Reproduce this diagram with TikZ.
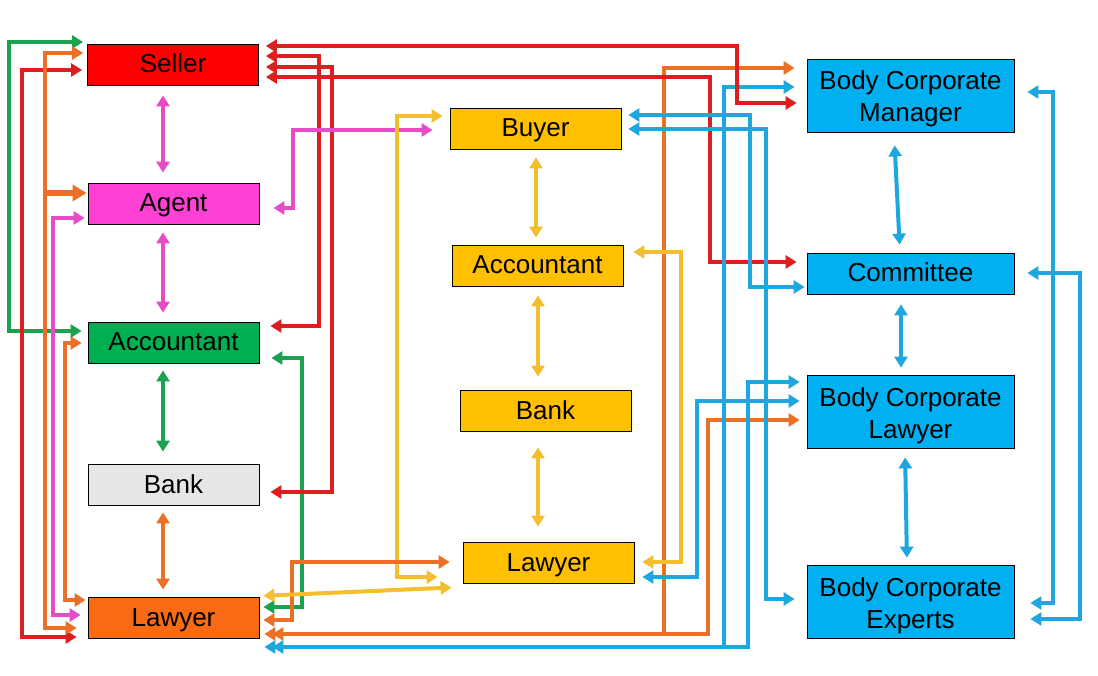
\documentclass[tikz,border=0pt]{standalone}
\usepackage{fontspec}
\setmainfont{Liberation Sans}
\usetikzlibrary{arrows.meta}
\definecolor{cSeller}{HTML}{FF0000}
\definecolor{cAgent}{HTML}{FF40D4}
\definecolor{cAcc}{HTML}{00B050}
\definecolor{cBank}{HTML}{E7E6E6}
\definecolor{cLaw}{HTML}{FA6A14}
\definecolor{cYel}{HTML}{FFC000}
\definecolor{cBlu}{HTML}{00B0F0}
\definecolor{lRed}{HTML}{DC1E1E}
\definecolor{lMag}{HTML}{E64CC8}
\definecolor{lGrn}{HTML}{1AA24E}
\definecolor{lOrg}{HTML}{EC6F26}
\definecolor{lYel}{HTML}{F4BF2E}
\definecolor{lBlu}{HTML}{1EA6DE}
\begin{document}
\begin{tikzpicture}[x=1pt,y=-1pt,
  box/.style={draw=black,line width=0.8pt,minimum width=171pt,minimum height=41pt,inner sep=0pt,align=center,font=\fontsize{26}{32}\selectfont,text height=19pt,text depth=2pt},
  wbox/.style={box,fill=cBlu,minimum width=207pt,minimum height=73pt,text height=59pt,text depth=6pt},
  con/.style 2 args={line width=4pt,{Triangle[length=11pt,width=13pt]}-{Triangle[length=11pt,width=13pt]},shorten <=#1,shorten >=#2},
  rd/.style={draw=lRed},mg/.style={draw=lMag},gr/.style={draw=lGrn},
  og/.style={draw=lOrg},yl/.style={draw=lYel},bl/.style={draw=lBlu}]
\useasboundingbox (0,0) rectangle (1098,676);
\fill[white] (0,0) rectangle (1098,676);
% left column
\node[box,fill=cSeller] (seller) at (173,64.5) {Seller};
\node[box,fill=cAgent] (agent) at (173.5,203.5) {Agent};
\node[box,fill=cAcc] (accL) at (173.5,342.5) {Accountant};
\node[box,fill=cBank] (bankL) at (173.5,484.5) {Bank};
\node[box,fill=cLaw] (lawL) at (173.5,617.5) {Lawyer};
% middle column
\node[box,fill=cYel] (buyer) at (535.5,128.5) {Buyer};
\node[box,fill=cYel] (accM) at (537.5,265.5) {Accountant};
\node[box,fill=cYel] (bankM) at (545.5,410.5) {Bank};
\node[box,fill=cYel] (lawM) at (548.5,562.5) {Lawyer};
% right column
\node[wbox] (bcm) at (910.5,95.5) {Body Corporate\\Manager};
\node[wbox,minimum height=41pt,text height=19pt,text depth=2pt] (com) at (910.5,273.5) {Committee};
\node[wbox] (bcl) at (910.5,411.5) {Body Corporate\\Lawyer};
\node[wbox] (bce) at (910.5,601.5) {Body Corporate\\Experts};

% left column verticals
\draw[mg,con={10pt}{10pt}] (163,0 |- seller.south) -- (163,0 |- agent.north);
\draw[mg,con={8pt}{9pt}] (163,0 |- agent.south) -- (163,0 |- accL.north);
\draw[gr,con={7pt}{12pt}] (163,0 |- accL.south) -- (163,0 |- bankL.north);
\draw[og,con={7pt}{7pt}] (163,0 |- bankL.south) -- (163,0 |- lawL.north);

% outer left connectors
\draw[gr,con={4pt}{6pt}] (seller.west |- 0,42) -| (9,331) -- (accL.west |- 0,331);
\draw[rd,con={5pt}{11pt}] (seller.west |- 0,70) -| (22,637) -- (lawL.west |- 0,637);
\draw[og,con={4pt}{11pt}] (seller.west |- 0,53) -| (45,628) -- (lawL.west |- 0,628);
\draw[og,line width=5.5pt,-{Triangle[length=14pt,width=16pt]},shorten >=1pt] (45,193) -- (agent.west |- 0,193);
\draw[mg,con={3pt}{7pt}] (agent.west |- 0,218) -| (53,615) -- (lawL.west |- 0,615);
\draw[og,con={6pt}{2pt}] (accL.west |- 0,343) -| (65,600) -- (lawL.west |- 0,600);

% middle column verticals
\draw[yl,con={8pt}{7pt}] (536,0 |- buyer.south) -- (536,0 |- accM.north);
\draw[yl,con={9pt}{13pt}] (538,0 |- accM.south) -- (538,0 |- bankM.north);
\draw[yl,con={16pt}{15pt}] (538,0 |- bankM.south) -- (538,0 |- lawM.north);

% right column verticals
\draw[bl,con={13pt}{8pt}] (894,0 |- bcm.south) -- (900,0 |- com.north);
\draw[bl,con={10pt}{7pt}] (901,0 |- com.south) -- (901,0 |- bcl.north);
\draw[bl,con={9pt}{7pt}] (905,0 |- bcl.south) -- (907,0 |- bce.north);

% left-to-middle connectors
\draw[gr,con={12pt}{4pt}] (accL.east |- 0,358) -| (302,607) -- (lawL.east |- 0,607);
\draw[rd,con={7pt}{11pt}] (seller.east |- 0,56) -| (319,326) -- (accL.east |- 0,326);
\draw[rd,con={7pt}{11pt}] (seller.east |- 0,67) -| (332,492) -- (bankL.east |- 0,492);
\draw[mg,con={14pt}{17pt}] (agent.east |- 0,208) -| (293,130) -- (buyer.west |- 0,130);
\draw[yl,con={7pt}{25pt}] (buyer.west |- 0,116) -| (397,577) -- (lawM.west |- 0,577);
\draw[og,con={4pt}{13pt}] (lawL.east |- 0,620) -| (292,562) -- (lawM.west |- 0,562);
\draw[yl,con={4pt}{11pt}] (lawL.east |- 0,596) -- (lawM.west |- 0,587);

% long connectors to the right column
\draw[og,con={13pt}{12pt}] (lawL.east |- 0,634) -| (664,68) -- (bcm.west |- 0,68);
\draw[og,con={5pt}{7pt}] (lawL.east |- 0,634) -| (708,420) -- (bcl.west |- 0,420);
\draw[yl,con={10pt}{8pt}] (accM.east |- 0,252) -| (681,562) -- (lawM.east |- 0,562);
\draw[bl,con={8pt}{7pt}] (lawM.east |- 0,577) -| (697,401) -- (bcl.west |- 0,401);
\draw[rd,con={7pt}{10pt}] (seller.east |- 0,77) -| (710,262) -- (com.west |- 0,262);
\draw[bl,con={13pt}{12pt}] (lawL.east |- 0,647) -| (724,87) -- (bcm.west |- 0,87);
\draw[rd,con={7pt}{10pt}] (seller.east |- 0,46) -| (737,103) -- (bcm.west |- 0,103);
\draw[bl,con={5pt}{7pt}] (lawL.east |- 0,647) -| (748,382) -- (bcl.west |- 0,382);
\draw[bl,con={7pt}{2pt}] (buyer.east |- 0,115) -| (750,287) -- (com.west |- 0,287);
\draw[bl,con={7pt}{12pt}] (buyer.east |- 0,129) -| (766,599) -- (bce.west |- 0,599);

% right side
\draw[bl,con={13pt}{16pt}] (bcm.east |- 0,92) -| (1053,603) -- (bce.east |- 0,603);
\draw[bl,con={13pt}{16pt}] (com.east |- 0,273) -| (1080,619) -- (bce.east |- 0,619);
\end{tikzpicture}
\end{document}
